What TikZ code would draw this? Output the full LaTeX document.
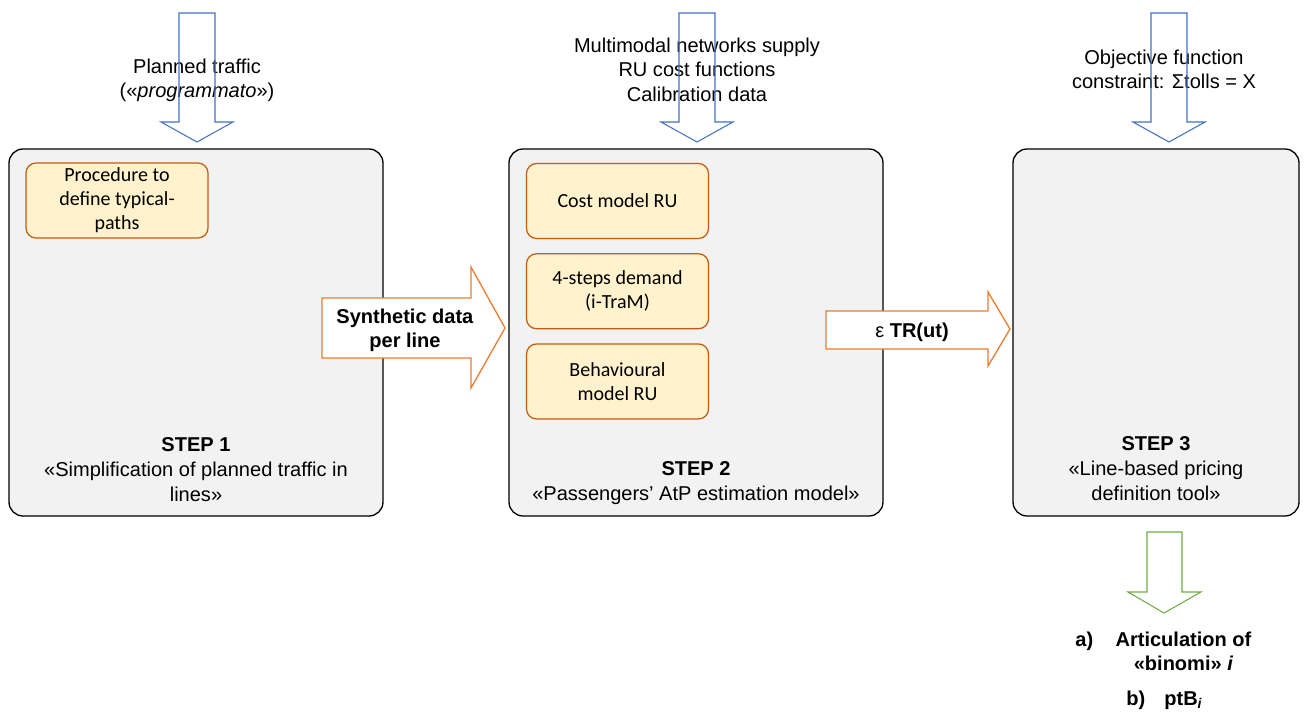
\documentclass[tikz,border=0pt]{standalone}
\usepackage{fontspec}
\setmainfont{Liberation Sans}
\newfontfamily\calibri{Carlito}
\usepackage{tikz}
\usetikzlibrary{positioning}
\definecolor{inblue}{HTML}{4472C4}
\definecolor{outorange}{HTML}{ED7D31}
\definecolor{resgreen}{HTML}{70AD47}
\definecolor{boxgray}{HTML}{F2F2F2}
\definecolor{modfill}{HTML}{FFF2CC}
\definecolor{moddraw}{HTML}{C55A11}
\newcommand{\px}{0.02cm}

\begin{document}
\begin{tikzpicture}[x=0.02cm,y=-0.02cm,
				every node/.style={font=\fontsize{11.4}{14}\selectfont,inner sep=0pt},
				stepbox/.style={rectangle,rounded corners=0.28cm,draw=black,fill=boxgray,line width=0.75pt,minimum height=367*\px},
				modbox/.style={rectangle,rounded corners=0.2cm,draw=moddraw,fill=modfill,line width=0.7pt,minimum width=182*\px,minimum height=75*\px,align=center,font=\calibri\fontsize{11.4}{13.6}\selectfont},
				lbl/.style={align=center},
				inarrow/.style={draw=inblue,line width=0.6pt},
				outarrow/.style={draw=outorange,fill=white,line width=0.75pt},
				resarrow/.style={draw=resgreen,line width=0.6pt}
				]
				\useasboundingbox (0,0) rectangle (1308,713);
				% steps
				\node (s1) [stepbox,minimum width=374*\px] at (196,332.5) {};
				\node (s2) [stepbox,minimum width=374*\px] at (696,332.5) {};
				\node (s3) [stepbox,minimum width=286*\px] at (1156,332.5) {};
				\node (p1) [modbox] at (117,200.5) {Procedure to\\define typical-\\paths};
				\node (c1) [modbox] at (617.5,201) {Cost model RU};
				\node (c2) [modbox,below=0.28cm of c1] {4-steps demand\\(i-TraM)};
				\node (c3) [modbox,below=0.28cm of c2] {Behavioural\\model RU};
				\node (l1) [lbl,anchor=north] at (196,437.5) {\textbf{STEP 1}\\«Simplification of planned traffic in\\lines»};
				\node (l2) [lbl,anchor=north] at (696,461.5) {\textbf{STEP 2}\\«Passengers’ AtP estimation model»};
				\node (l3) [lbl,anchor=north] at (1156,436.5) {\textbf{STEP 3}\\«Line-based pricing\\definition tool»};
				% inputs
				\node (i1) [lbl,anchor=north] at (197,58.5) {Planned traffic\\(«\textit{programmato}»)};
				\node (i2) [lbl,anchor=north] at (697,37.5) {Multimodal networks supply\\RU cost functions\\Calibration data};
				\node (i3) [lbl,anchor=north] at (1164,49.5) {Objective function\\constraint: Σtolls = X};
				\draw [inarrow] (179,13) -- (215,13) -- (215,122) -- (233,122) -- (197,142) -- (161,122) -- (179,122) -- cycle;
				\draw [inarrow] (679,13) -- (715,13) -- (715,122) -- (733,122) -- (697,142) -- (661,122) -- (679,122) -- cycle;
				\draw [inarrow] (1151,13) -- (1187,13) -- (1187,122) -- (1205,122) -- (1169,142) -- (1133,122) -- (1151,122) -- cycle;
				% flows between steps
				\draw [outarrow] (322,298) -- (471,298) -- (471,267) -- (505,328) -- (471,388) -- (471,358) -- (322,358) -- cycle;
				\node (d1) [lbl,anchor=north] at (405,308.5) {\textbf{Synthetic data}\\\textbf{per line}};
				\draw [outarrow] (826,311) -- (988,311) -- (988,292) -- (1010,329) -- (988,366) -- (988,349) -- (826,349) -- cycle;
				\node (d2) [anchor=base] at (912,337) {ε \textbf{TR(ut)}};
				% results
				\draw [resarrow] (1147,532) -- (1182,532) -- (1182,592) -- (1201,592) -- (1164,613) -- (1128,592) -- (1147,592) -- cycle;
				\node (r1) [anchor=base west] at (1075,646) {\textbf{a)}};
				\node (r2) [lbl,anchor=north] at (1183.5,631.4) {\textbf{Articulation of}\\\textbf{«binomi» \textit{i}}};
				\node (r3) [anchor=base west] at (1126,705) {\textbf{b)}};
				\node (r4) [anchor=base west] at (1164,705) {\textbf{ptB}\textsubscript{\textbf{\textit{i}}}};
\end{tikzpicture}
\end{document}
